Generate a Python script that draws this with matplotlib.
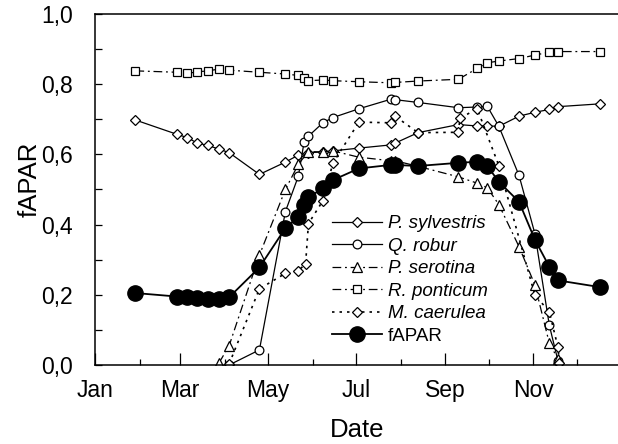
import matplotlib
matplotlib.use("Agg")
import matplotlib.pyplot as plt
from matplotlib.ticker import FixedLocator

plt.rcParams['font.family'] = ['Liberation Sans', 'DejaVu Sans']

# ---- data (day of year, fAPAR) ----
syl_day = [29, 58, 65, 72, 79, 87, 94, 115, 133, 142, 149, 159, 166, 184, 206, 209, 225, 253, 266, 273, 281, 295, 306, 316, 322, 351]
syl_val = [0.698, 0.657, 0.648, 0.632, 0.626, 0.615, 0.605, 0.543, 0.578, 0.598, 0.605, 0.607, 0.610, 0.618, 0.627, 0.632, 0.662, 0.685, 0.681, 0.681, 0.680, 0.709, 0.720, 0.728, 0.736, 0.744]

rob_day = [94, 115, 133, 142, 146, 149, 159, 166, 184, 206, 209, 225, 253, 266, 273, 281, 295, 306, 316, 322]
rob_val = [0.0, 0.043, 0.437, 0.538, 0.636, 0.652, 0.690, 0.705, 0.730, 0.757, 0.756, 0.748, 0.733, 0.735, 0.737, 0.680, 0.540, 0.374, 0.113, 0.012]

ser_day = [87, 94, 115, 133, 142, 149, 159, 166, 184, 206, 209, 225, 253, 266, 273, 281, 295, 306, 316, 322]
ser_val = [0.006, 0.055, 0.313, 0.500, 0.572, 0.608, 0.607, 0.610, 0.592, 0.582, 0.582, 0.566, 0.536, 0.518, 0.505, 0.457, 0.337, 0.228, 0.062, 0.017]

pon_day = [29, 58, 65, 72, 79, 87, 94, 115, 133, 142, 146, 149, 159, 166, 184, 206, 209, 225, 253, 266, 273, 281, 295, 306, 316, 322, 351]
pon_val = [0.838, 0.834, 0.831, 0.835, 0.838, 0.843, 0.840, 0.834, 0.829, 0.825, 0.818, 0.810, 0.812, 0.810, 0.807, 0.804, 0.805, 0.809, 0.814, 0.845, 0.861, 0.866, 0.873, 0.883, 0.891, 0.893, 0.893]

cae_day = [94, 115, 133, 142, 147, 149, 159, 166, 184, 206, 209, 225, 253, 254, 266, 281, 306, 316, 322, 323]
cae_val = [0.003, 0.217, 0.261, 0.269, 0.288, 0.403, 0.468, 0.576, 0.692, 0.690, 0.709, 0.662, 0.663, 0.703, 0.730, 0.568, 0.199, 0.152, 0.050, 0.005]

fap_day = [29, 58, 65, 72, 79, 87, 94, 115, 133, 142, 146, 149, 159, 166, 184, 206, 209, 225, 253, 266, 273, 281, 295, 306, 316, 322, 351]
fap_val = [0.205, 0.195, 0.193, 0.190, 0.188, 0.188, 0.193, 0.278, 0.390, 0.421, 0.456, 0.478, 0.503, 0.527, 0.560, 0.570, 0.570, 0.567, 0.576, 0.579, 0.567, 0.522, 0.465, 0.357, 0.280, 0.241, 0.222]

month_days = [1, 60, 121, 182, 244, 305]
month_labels = ['Jan', 'Mar', 'May', 'Jul', 'Sep', 'Nov']
minor_days = [32, 91, 152, 213, 274, 335]
y_ticks = [0.0, 0.2, 0.4, 0.6, 0.8, 1.0]
y_labels = ['0,0', '0,2', '0,4', '0,6', '0,8', '1,0']
y_minor = [0.1, 0.3, 0.5, 0.7, 0.9]

W, H = 618, 444
fig = plt.figure(figsize=(W / 100, H / 100), dpi=100)
ax = fig.add_axes([95 / W, 79 / H, 525 / W, 351 / H])

lw = 0.9
mk = dict(markerfacecolor='white', markeredgecolor='black', markeredgewidth=0.9, color='black')

ax.plot(syl_day, syl_val, linestyle='-', linewidth=lw, marker='D', markersize=4.6, label='P. sylvestris', **mk)
ax.plot(rob_day, rob_val, linestyle='-', linewidth=lw, marker='o', markersize=6.3, label='Q. robur', **mk)
ax.plot(ser_day, ser_val, linestyle=(0, (7, 3, 1.5, 3)), linewidth=lw, marker='^', markersize=6.5, label='P. serotina', **mk)
ax.plot(pon_day, pon_val, linestyle=(0, (7, 3, 1.5, 3)), linewidth=lw, marker='s', markersize=5.8, label='R. ponticum', **mk)
ax.plot(cae_day, cae_val, linestyle=(0, (1.5, 3)), linewidth=1.2, marker='D', markersize=4.6, label='M. caerulea', **mk)
ax.plot(fap_day, fap_val, linestyle='-', linewidth=1.3, marker='o', markersize=11, color='black',
        markerfacecolor='black', markeredgecolor='black', label='fAPAR')

ax.set_xlim(1, 365)
ax.set_ylim(0, 1.0)

ax.xaxis.set_major_locator(FixedLocator(month_days))
ax.set_xticklabels(month_labels)
ax.xaxis.set_minor_locator(FixedLocator(minor_days))
ax.yaxis.set_major_locator(FixedLocator(y_ticks))
ax.set_yticklabels(y_labels)
ax.yaxis.set_minor_locator(FixedLocator(y_minor))

ax.tick_params(axis='x', which='major', direction='in', length=8.5, width=0.9, labelsize=16.5, pad=10)
ax.tick_params(axis='x', which='minor', direction='in', length=4.3, width=0.9)
ax.tick_params(axis='y', which='both', direction='in', length=5, width=0.9, labelsize=16.5, pad=16)

ax.spines['right'].set_visible(False)
for s in ['left', 'top', 'bottom']:
    ax.spines[s].set_linewidth(1.1)

ax.set_xlabel('Date', fontsize=18.5)
ax.set_ylabel('fAPAR', fontsize=18.5)
ax.xaxis.set_label_coords(0.5, -0.151)
ax.yaxis.set_label_coords(-0.101, 0.53)

leg = ax.legend(loc='upper left', bbox_to_anchor=(332 / W, 1 - 215 / H), bbox_transform=fig.transFigure,
                frameon=False, fontsize=13.5, handlelength=2.67, handletextpad=0.32,
                labelspacing=0.29, borderpad=0, borderaxespad=0)
for t in leg.get_texts()[:5]:
    t.set_fontstyle('italic')

fig.savefig('out.png', dpi=100)
